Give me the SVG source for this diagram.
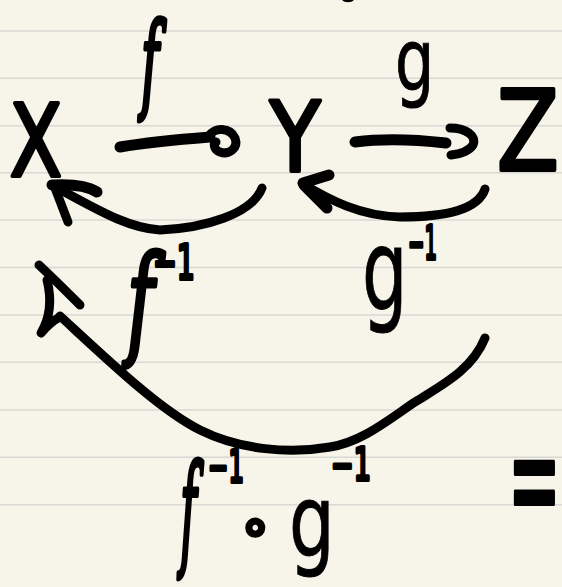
<svg xmlns="http://www.w3.org/2000/svg" width="562" height="587" viewBox="0 0 562 587">
<style>
.bg{fill:#f7f5e9}
.rule{stroke:#d8d8d4;stroke-width:1.6}
.hw{fill:#000;stroke:#000;stroke-width:4;stroke-linejoin:round;font-family:"DejaVu Sans",sans-serif}
.gl{fill:#000;stroke:#000;stroke-width:1;font-family:"DejaVu Sans",sans-serif}
.it{fill:#000;stroke:#000;stroke-width:5;stroke-linejoin:round;font-family:"DejaVu Serif",serif;font-style:italic}
.ln{fill:none;stroke:#000;stroke-linecap:round;stroke-linejoin:round}
.w11{stroke-width:11}
.w9{stroke-width:9}
</style>
<rect class="bg" x="0" y="0" width="562" height="587"/>
<g id="rules">
<line class="rule" x1="0" y1="31" x2="562" y2="31"/>
<line class="rule" x1="0" y1="78.3" x2="562" y2="78.3"/>
<line class="rule" x1="0" y1="125.7" x2="562" y2="125.7"/>
<line class="rule" x1="0" y1="172.7" x2="562" y2="172.7"/>
<line class="rule" x1="0" y1="220" x2="562" y2="220"/>
<line class="rule" x1="0" y1="267.5" x2="562" y2="267.5"/>
<line class="rule" x1="0" y1="315" x2="562" y2="315"/>
<line class="rule" x1="0" y1="362.3" x2="562" y2="362.3"/>
<line class="rule" x1="0" y1="410" x2="562" y2="410"/>
<line class="rule" x1="0" y1="457.3" x2="562" y2="457.3"/>
<line class="rule" x1="0" y1="504.7" x2="562" y2="504.7"/>
</g>
<path d="M342,0 C345,3 351,3 354,0 Z" fill="#000"/>
<g id="connectors">
<g id="arrow-f">
<path class="ln w11" d="M120,147 C150,142 185,139 210,137"/>
<path class="ln w9" d="M209,136 C214,127 230,127 235,138 C239,149 228,155 220,152 C214,150 213,144 216,142"/>
</g>
<g id="arrow-g">
<path class="ln w11" d="M355,142 C385,138 420,140 446,143"/>
<path class="ln w9" d="M450,128 C466,128 477,136 473,145 C469,151 460,154 451,155"/>
</g>
<g id="arrow-finv">
<path class="ln w9" d="M262,188 C252,214 205,228 160,230 C125,228 90,205 55,187"/>
<path class="ln w11" d="M52,185 C70,184 86,185 97,192"/>
<path class="ln w9" d="M55,188 L68,222"/>
</g>
<g id="arrow-ginv">
<path class="ln w9" d="M485,189 C478,210 445,217 400,217 C360,216 330,200 303,184"/>
<path class="ln w11" d="M303,183 L329,175"/>
<path class="ln w11" d="M304,185 L327,208"/>
</g>
<g id="arrow-comp">
<path class="ln w9" d="M485,338 C472,370 442,385 415,402 C388,420 362,442 330,447 C290,454 240,450 200,430 C160,410 110,362 60,316"/>
<path class="ln w9" d="M39,265 C55,280 68,293 80,305"/>
<path class="ln w9" d="M47,280 C52,300 50,318 41,333 C47,326 52,321 60,317"/>
</g>
</g>
<g id="node-X"><text class="hw" font-size="99" transform="translate(9.8,176) scale(0.77,1)">X</text></g>
<g id="node-Y"><text class="hw" font-size="97" transform="translate(270,171) scale(0.85,1)">Y</text></g>
<g id="node-Z"><text class="hw" font-size="110" transform="translate(497,170) scale(0.82,1)">Z</text></g>
<g id="label-f"><text class="it" font-size="106" transform="translate(141,99) scale(0.46,1)">f</text></g>
<g id="label-g"><text class="gl" font-size="86" transform="translate(395,90) scale(0.72,1)">g</text></g>
<g id="label-finv">
<text class="it" font-size="122" transform="translate(127,343) scale(0.6,1)">f</text>
<text class="hw" font-size="48" x="153" y="279" textLength="42" lengthAdjust="spacingAndGlyphs">−1</text>
</g>
<g id="label-ginv">
<text class="gl" font-size="112" transform="translate(362,310) scale(0.64,1)">g</text>
<text class="hw" font-size="46" x="408" y="259" textLength="29" lengthAdjust="spacingAndGlyphs">−1</text>
</g>
<g id="label-comp">
<text class="it" font-size="123" transform="translate(180,553) scale(0.37,1)">f</text>
<text class="hw" font-size="44" x="208" y="482" textLength="36" lengthAdjust="spacingAndGlyphs">−1</text>
<text class="hw" font-size="52" x="239" y="544">∘</text>
<text class="gl" font-size="100" transform="translate(289,556) scale(0.72,1)">g</text>
<text class="hw" font-size="44" x="331" y="480" textLength="40" lengthAdjust="spacingAndGlyphs">−1</text>
</g>
<g id="equals"><text class="hw" font-size="150" transform="translate(508,530) scale(0.42,1)">=</text></g>
</svg>
